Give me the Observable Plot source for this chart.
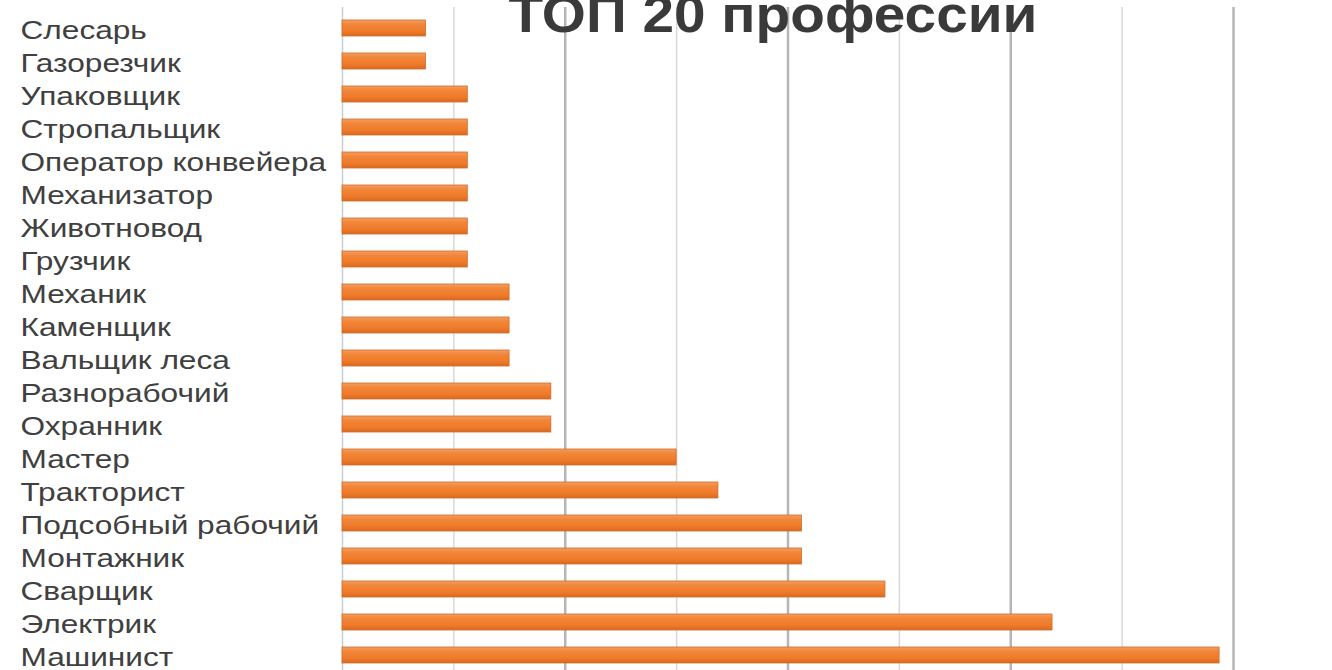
<!DOCTYPE html>
<html>
<head>
<meta charset="utf-8">
<script src="https://cdn.jsdelivr.net/npm/d3@7"></script>
<script src="https://cdn.jsdelivr.net/npm/@observablehq/plot@0.6"></script>
<style>
  body { margin: 0; background: #fff; }
  #chart { width: 1332px; height: 670px; overflow: hidden; }
</style>
</head>
<body>
<div id="chart"></div>
<script>
const professions = [
  "Слесарь", "Газорезчик", "Упаковщик", "Стропальщик", "Оператор конвейера",
  "Механизатор", "Животновод", "Грузчик", "Механик", "Каменщик",
  "Вальщик леса", "Разнорабочий", "Охранник", "Мастер", "Тракторист",
  "Подсобный рабочий", "Монтажник", "Сварщик", "Электрик", "Машинист"
];
const counts = [6, 6, 9, 9, 9, 9, 9, 9, 12, 12, 12, 15, 15, 24, 27, 33, 33, 39, 51, 63];
const majorTicks = [16, 32, 48, 64];
const minorTicks = [8, 24, 40, 56];
const title = "ТОП 20 профессии";

const data = professions.map((p, i) => ({profession: p, count: counts[i]}));

const plot = Plot.plot({
  width: 1332,
  height: 670,
  marginLeft: 342,
  marginRight: 99,
  marginTop: 7,
  marginBottom: 0,
  x: {domain: [0, 64], axis: null},
  y: {domain: professions, range: [0, 682], padding: 0.52, axis: null},
  style: {fontFamily: "'Liberation Sans', Arial, sans-serif", background: "#fff", overflow: "hidden"},
  marks: [
    Plot.ruleX(minorTicks, {stroke: "#d8d8d8", strokeWidth: 1.5}),
    Plot.ruleX(majorTicks, {stroke: "#b6b6b6", strokeWidth: 2.5}),
    Plot.ruleX([0], {stroke: "#c6cdd6", strokeWidth: 1.5}),
    Plot.text([title], {
      frameAnchor: "top", dx: -15, dy: -12, lineAnchor: "top",
      fontSize: 52, fontWeight: "bold", fill: "#3a3a3a"
    }),
    Plot.barX(data, {
      y: "profession", x: "count",
      fill: "url(#barGrad)", stroke: "#cf6b26", strokeWidth: 0.8
    }),
    Plot.text(data, {
      y: "profession", text: "profession",
      frameAnchor: "left", dx: -322, dy: 2, textAnchor: "start",
      fontSize: 25, fill: "#404040"
    })
  ]
});

const defs = d3.select(plot).insert("defs", ":first-child");
const grad = defs.append("linearGradient")
  .attr("id", "barGrad").attr("x1", 0).attr("y1", 0).attr("x2", 0).attr("y2", 1);
[["0%", "#f3a066"], ["25%", "#f2873a"], ["70%", "#ef7a2a"], ["100%", "#d96a22"]]
  .forEach(([o, c]) => grad.append("stop").attr("offset", o).attr("stop-color", c));

document.getElementById("chart").appendChild(plot);

// The reference's text is stretched horizontally: match its widths.
d3.select(plot).selectAll("text").each(function() {
  const t = this.textContent;
  const w = this.getComputedTextLength();
  if (t === title) {
    this.setAttribute("textLength", 529);
  } else if (professions.includes(t)) {
    this.setAttribute("textLength", w * 1.265);
  } else return;
  this.setAttribute("lengthAdjust", "spacingAndGlyphs");
});
</script>
</body>
</html>
